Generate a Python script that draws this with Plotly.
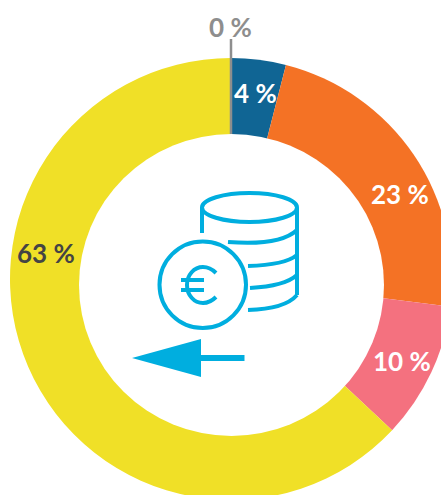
import plotly.graph_objects as go

categories = ["A", "B", "C", "D", "E"]
values = [0, 4, 23, 10, 63]
labels = ["0 %", "4 %", "23 %", "10 %", "63 %"]
colors = ["#8E8E8E", "#106594", "#F47225", "#F4717F", "#F0E027"]

W, H = 462, 500
ICON = "#00AEDF"


def px(x):
    return x / W


def py(y):
    return 1 - y / H


def path(*parts):
    out = []
    for p in parts:
        if isinstance(p, str):
            out.append(p)
        else:
            out.append(f"{px(p[0]):.5f},{py(p[1]):.5f}")
    return " ".join(out)


fig = go.Figure(go.Pie(
    labels=categories, values=values, hole=0, sort=False, direction="clockwise",
    rotation=0, textinfo="none", hoverinfo="label+percent", showlegend=False,
    marker=dict(colors=colors, line=dict(width=0)),
    domain=dict(x=[px(10), px(452)], y=[py(500), py(58)]),
))

shapes = []


def line_path(d, width=4, color=ICON, fill=None):
    s = dict(type="path", xref="paper", yref="paper", path=d,
             line=dict(color=color, width=width))
    if fill:
        s["fillcolor"] = fill
    shapes.append(s)


def ellipse(x0, y0, x1, y1, width=4, fill=None, color=ICON):
    s = dict(type="circle", xref="paper", yref="paper",
             x0=px(x0), x1=px(x1), y0=py(y0), y1=py(y1),
             line=dict(color=color, width=width))
    if fill:
        s["fillcolor"] = fill
    shapes.append(s)


# the donut's hole (sits slightly low in the reference)
ellipse(79, 134, 384, 436, width=0, fill="white", color="white")

# pointer line of the 0 % slice
line_path(path("M", (231, 39), "L", (231, 134)), width=2.5, color="#8E8E8E")

# coin stack
ellipse(202, 193, 297, 222)
line_path(path("M", (202, 208), "L", (202, 233)))
line_path(path("M", (297, 208), "L", (297, 295)))
line_path(path("M", (228, 242), "Q", (280, 246), (297, 230)))
line_path(path("M", (248, 266), "Q", (285, 265), (297, 255)))
line_path(path("M", (250, 288), "Q", (285, 286), (297, 275)))
line_path(path("M", (248, 310), "Q", (285, 309), (297, 295)))

# euro coin
ellipse(159.5, 241.5, 246, 328, fill="white")
line_path(path("M", (216, 273), "C", (212, 269), (207, 267), (203, 267),
               "C", (194, 267), (187, 275), (187, 285),
               "C", (187, 295), (194, 303), (203, 303),
               "C", (207, 303), (212, 301), (216, 297)))
line_path(path("M", (181, 280), "L", (204, 280)))
line_path(path("M", (181, 290), "L", (204, 290)))

# arrow
line_path(path("M", (132, 358), "L", (201, 339), "L", (201, 377), "Z"), width=0, fill=ICON)
line_path(path("M", (201, 358), "L", (244.5, 358)), width=6)

fig.update_layout(shapes=shapes)

label_pos = [(230, 27), (255, 93), (400, 194), (402, 361), (46, 253)]
label_col = ["#8E8E8E", "white", "white", "white", "#444444"]
for t, (x, y), c in zip(labels, label_pos, label_col):
    fig.add_annotation(text=f"<b>{t}</b>", x=px(x), y=py(y), xref="paper", yref="paper",
                       showarrow=False, xanchor="center", yanchor="middle",
                       font=dict(family="Lato", size=26, color=c))

fig.update_layout(width=W, height=H, margin=dict(l=0, r=0, t=0, b=0),
                  paper_bgcolor="white", plot_bgcolor="white")

fig.write_html("out.html", config=dict(displayModeBar=False),
               post_script="document.body.style.margin='0';document.body.style.overflow='hidden';document.documentElement.style.overflow='hidden';")
